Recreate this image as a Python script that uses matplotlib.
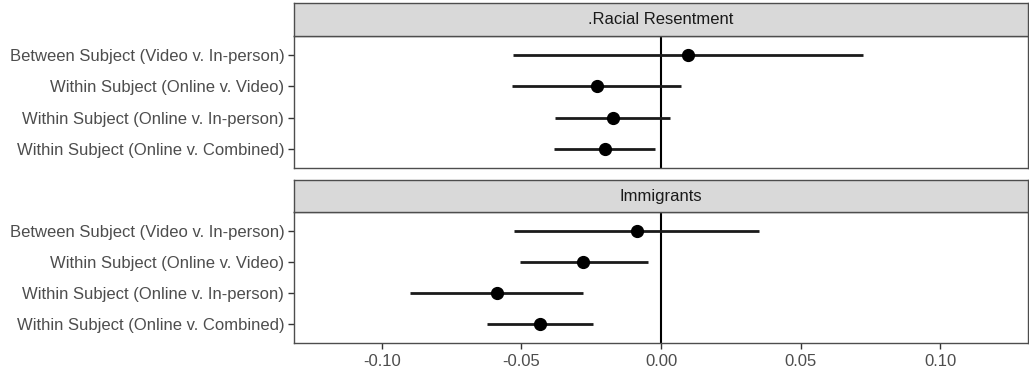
import matplotlib
matplotlib.use("Agg")
import matplotlib.pyplot as plt

plt.rcParams['font.family'] = ['Liberation Sans', 'DejaVu Sans']

# Comparisons, top to bottom
comparisons = [
    "Between Subject (Video v. In-person)",
    "Within Subject (Online v. Video)",
    "Within Subject (Online v. In-person)",
    "Within Subject (Online v. Combined)",
]

panels = [".Racial Resentment", "Immigrants"]

# Estimates and confidence bounds per panel
rr_est = [0.0098, -0.0230, -0.0173, -0.0200]
rr_lo = [-0.0529, -0.0535, -0.0378, -0.0382]
rr_hi = [0.0724, 0.0072, 0.0032, -0.0021]

im_est = [-0.0087, -0.0278, -0.0588, -0.0433]
im_lo = [-0.0526, -0.0505, -0.0899, -0.0624]
im_hi = [0.0352, -0.0048, -0.0280, -0.0242]

x_ticks = [-0.10, -0.05, 0.00, 0.05, 0.10]
x_ticklabels = ["-0.10", "-0.05", "0.00", "0.05", "0.10"]

W, H = 1029, 374
fig = plt.figure(figsize=(W / 100, H / 100), dpi=100)

left_px, right_px = 294, 1028
layout = [
    # (strip top, strip bottom / panel top, panel bottom)
    (3, 36, 168),
    (180, 212, 343),
]
data = [(rr_est, rr_lo, rr_hi), (im_est, im_lo, im_hi)]

border = "#4d4d4d"
text_col = "#4d4d4d"
fs = 12

for i, (title, (st, pt, pb), (est, lo, hi)) in enumerate(zip(panels, layout, data)):
    ax = fig.add_axes([left_px / W, 1 - pb / H, (right_px - left_px) / W, (pb - pt) / H])
    n = len(comparisons)
    ys = list(range(n, 0, -1))
    ax.axvline(0, color="black", lw=1.5, zorder=1)
    ax.hlines(ys, lo, hi, color="#1a1a1a", lw=2.0, zorder=2)
    ax.plot(est, ys, "o", color="black", ms=8.5, zorder=3)
    ax.set_xlim(-0.1314, 0.1314)
    ax.set_ylim(0.4, n + 0.6)
    ax.set_yticks(ys)
    ax.set_yticklabels(comparisons, fontsize=fs, color=text_col)
    ax.tick_params(axis="y", length=4, width=1, color="#333333", pad=3)
    ax.set_xticks(x_ticks)
    if i == len(panels) - 1:
        ax.set_xticklabels(x_ticklabels, fontsize=fs, color=text_col)
        ax.tick_params(axis="x", length=4, width=1, color="#333333", pad=4)
    else:
        ax.tick_params(axis="x", length=0, labelbottom=False)
    for s in ax.spines.values():
        s.set_color(border)
        s.set_linewidth(1.0)

    # facet strip
    sax = fig.add_axes([left_px / W, 1 - pt / H, (right_px - left_px) / W, (pt - st) / H])
    sax.set_xlim(0, 1)
    sax.set_ylim(0, 1)
    sax.set_xticks([])
    sax.set_yticks([])
    sax.set_facecolor("#d9d9d9")
    for s in sax.spines.values():
        s.set_color(border)
        s.set_linewidth(1.0)
    sax.text(0.5, 0.5, title, ha="center", va="center", fontsize=fs, color="#1a1a1a")

fig.savefig("out.png", dpi=100)
